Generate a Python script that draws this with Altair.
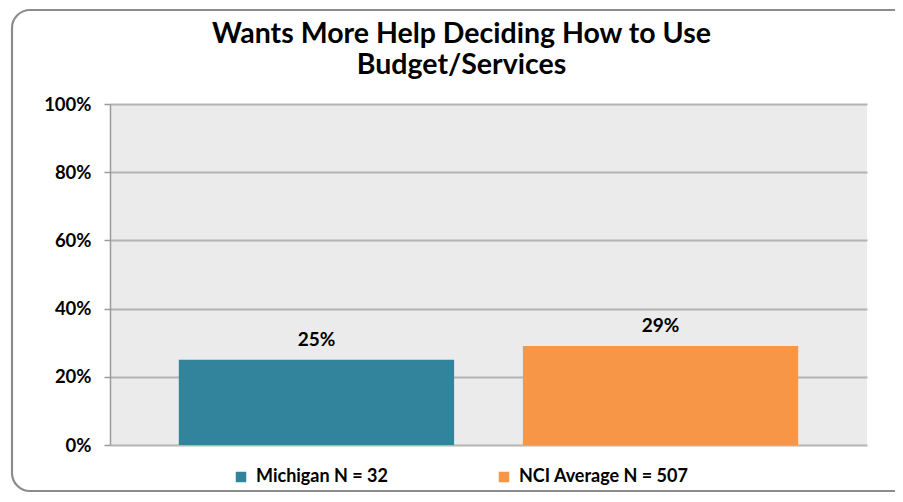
import altair as alt
import pandas as pd

categories = ["Michigan N = 32", "NCI Average N = 507"]
values = [0.25, 0.29]
labels = ["25%", "29%"]
colors = ["#31849b", "#f79646"]
y_ticks = [0, 0.2, 0.4, 0.6, 0.8, 1.0]

df = pd.DataFrame({"group": categories, "value": values, "label": labels})

FONT = "Lato"

base = alt.Chart(df)

bars = base.mark_bar().encode(
    x=alt.X("group:N", sort=categories, axis=None,
            scale=alt.Scale(paddingInner=0.2, paddingOuter=0.2)),
    y=alt.Y("value:Q", scale=alt.Scale(domain=[0, 1]),
            axis=alt.Axis(values=y_ticks, format=".0%", title=None,
                          labelFont=FONT, labelFontWeight="bold", labelFontSize=18.5,
                          labelColor="#000000", labelPadding=13,
                          domainColor="#9a9a9a", domainWidth=1.5,
                          tickColor="#9a9a9a", tickSize=6, tickWidth=1.5,
                          gridColor="#b4b4b4", gridWidth=2)),
    color=alt.Color("group:N", sort=categories,
                    scale=alt.Scale(domain=categories, range=colors),
                    legend=alt.Legend(title=None, orient="none", direction="horizontal",
                                      legendX=122, legendY=364,
                                      symbolType="square", symbolSize=110,
                                      symbolStrokeWidth=0, symbolOpacity=1,
                                      labelFont=FONT, labelFontWeight="bold",
                                      labelFontSize=18, labelColor="#000000",
                                      labelLimit=400,
                                      columnPadding=107, labelOffset=6)),
)

text = base.mark_text(font=FONT, fontWeight="bold", fontSize=19, dy=-10,
                      baseline="bottom", color="#000000").encode(
    x=alt.X("group:N", sort=categories),
    y="value:Q",
    text="label:N",
)

border = alt.Chart(pd.DataFrame({"a": [0]})).mark_rect(
    fill=None, stroke="#8c8c8c", strokeWidth=2.2, cornerRadius=18, clip=False
).encode(
    x=alt.value(-98), x2=alt.value(1000), y=alt.value(-94), y2=alt.value(387)
)

chart = alt.layer(border, bars, text).properties(
    width=757, height=341,
    padding={"left": 102, "top": 96, "right": 28, "bottom": 49},
    autosize=alt.AutoSizeParams(type="none"),
    background="#ffffff",
    title=alt.TitleParams(
        ["Wants More Help Deciding How to Use", "Budget/Services"],
        font=FONT, fontSize=28.5, fontWeight="bold", color="#000000",
        anchor="middle", dx=-27, offset=-71, lineHeight=31,
    ),
).configure_view(fill="#ebebeb", stroke=None)

chart.save("out.html", embed_options={"renderer": "svg", "actions": False})
